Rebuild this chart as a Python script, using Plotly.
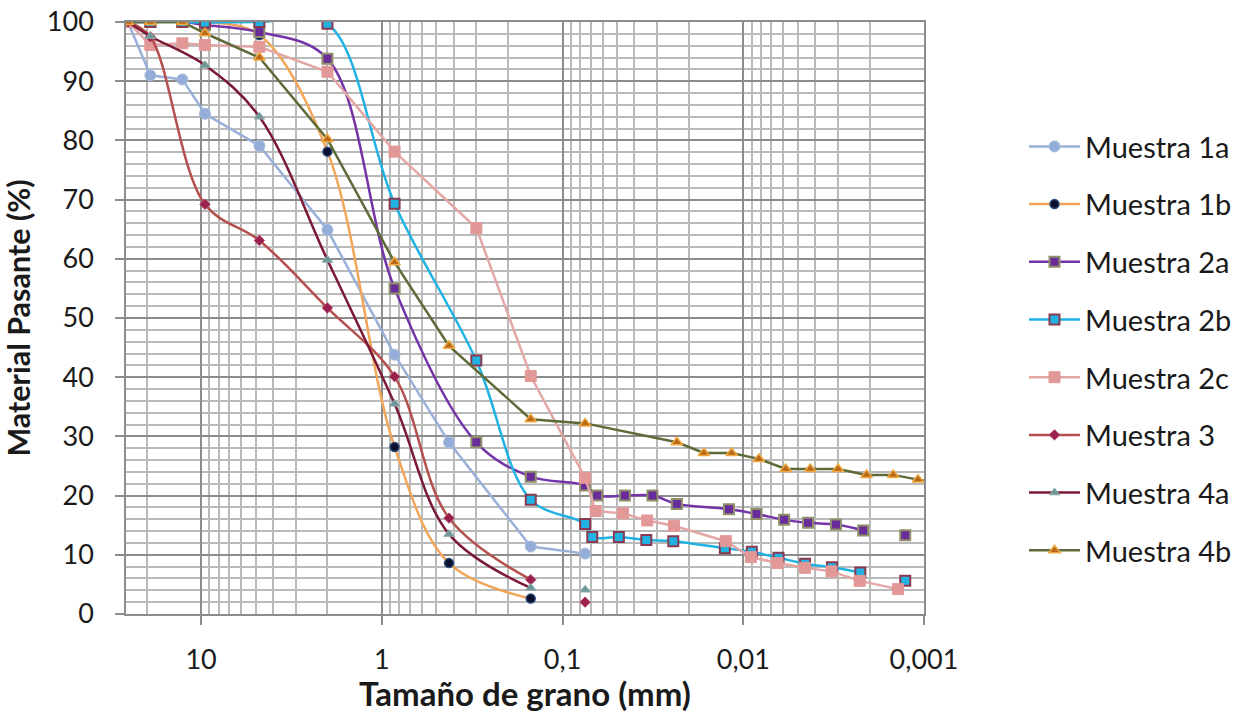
import math
import plotly.graph_objects as go

# ---------------- data ----------------
x_1a = [25.4, 19.1, 12.7, 9.52, 4.76, 2.0, 0.85, 0.425, 0.15, 0.075]
y_1a = [100, 91.0, 90.3, 84.5, 79.1, 64.9, 43.8, 29.0, 11.4, 10.2]

x_1b = [25.4, 12.7, 9.52, 4.76, 2.0, 0.85, 0.425, 0.15]
y_1b = [100, 100, 100, 97.8, 78.1, 28.2, 8.6, 2.6]

x_2a = [25.4, 19.1, 12.7, 9.52, 4.76, 2.0, 0.85, 0.3, 0.15, 0.075,
        0.0643, 0.0452, 0.0318, 0.0233, 0.0120, 0.00845, 0.00594, 0.00438,
        0.00307, 0.00217, 0.0017, 0.00127]
y_2a = [100, 100, 100, 99.5, 98.3, 93.8, 55.0, 29.0, 23.2, 21.7,
        20.0, 20.0, 20.0, 18.6, 17.7, 16.9, 15.9, 15.4,
        15.1, 14.1, None, 13.3]

x_2b = [25.4, 19.1, 12.7, 9.52, 4.76, 2.0, 0.85, 0.3, 0.15, 0.075,
        0.0685, 0.0488, 0.0344, 0.0244, 0.01265, 0.00897, 0.00638, 0.00455,
        0.00323, 0.00225, 0.0017, 0.00127]
y_2b = [100, 100, 100, 99.9, 100, 99.7, 69.3, 42.8, 19.3, 15.2,
        13.0, 13.0, 12.5, 12.3, 11.1, 10.5, 9.5, 8.5,
        7.9, 7.0, None, 5.6]

x_2c = [25.4, 19.1, 12.7, 9.52, 4.76, 2.0, 0.85, 0.3, 0.15, 0.075,
        0.0656, 0.0463, 0.0340, 0.0242, 0.0125, 0.00908, 0.00647, 0.00456,
        0.00325, 0.00227, 0.00139]
y_2c = [100, 96.1, 96.4, 96.1, 95.8, 91.6, 78.1, 65.2, 40.2, 23.0,
        17.4, 17.0, 15.8, 14.9, 12.3, 9.6, 8.6, 7.8,
        7.2, 5.6, 4.2]

x_3 = [25.4, 19.1, 9.52, 4.76, 2.0, 0.85, 0.425, 0.15, 0.1, 0.075]
y_3 = [100, 97.5, 69.2, 63.1, 51.7, 40.1, 16.2, 5.8, None, 2.0]

x_4a = [25.4, 19.1, 9.52, 4.76, 2.0, 0.85, 0.425, 0.15, 0.1, 0.075]
y_4a = [100, 97.6, 92.7, 84.0, 59.8, 35.5, 13.5, 4.4, None, 4.1]

x_4b = [25.4, 19.1, 12.7, 9.52, 4.76, 2.0, 0.85, 0.425, 0.15, 0.075,
        0.0233, 0.0165, 0.0116, 0.0082, 0.00582, 0.00426, 0.00299,
        0.00208, 0.00148, 0.00108, 0.00086]
y_4b = [100, 100, 100, 98.1, 94.0, 80.2, 59.4, 45.3, 32.9, 32.2,
        29.0, 27.2, 27.2, 26.2, 24.5, 24.5, 24.5,
        23.5, 23.5, 22.7, 22.3]

x_tick_vals = [10, 1, 0.1, 0.01, 0.001]
x_tick_text = ["10", "1", "0,1", "0,01", "0,001"]
y_tick_vals = [0, 10, 20, 30, 40, 50, 60, 70, 80, 90, 100]

series = [
    ("Muestra 1a", x_1a, y_1a, "#9AB0D8", "linear",
     dict(symbol="circle", size=11, color="#93ACD8", line=dict(color="#A8BDE0", width=1))),
    ("Muestra 1b", x_1b, y_1b, "#F2A65A", "spline",
     dict(symbol="circle", size=9, color="#0B1030", line=dict(color="#2C4A7A", width=1.5))),
    ("Muestra 2a", x_2a, y_2a, "#7434A8", "spline",
     dict(symbol="square", size=10, color="#6A2C9A", line=dict(color="#8E9068", width=2))),
    ("Muestra 2b", x_2b, y_2b, "#1FB2E2", "spline",
     dict(symbol="square", size=10, color="#1FB2E2", line=dict(color="#8A3A50", width=2))),
    ("Muestra 2c", x_2c, y_2c, "#E3A7A6", "linear",
     dict(symbol="square", size=11, color="#E29896", line=dict(color="#E29896", width=1))),
    ("Muestra 3", x_3, y_3, "#B4504E", "spline",
     dict(symbol="diamond", size=8, color="#9A2050", line=dict(color="#B04060", width=1))),
    ("Muestra 4a", x_4a, y_4a, "#7A1838", "spline",
     dict(symbol="triangle-up", size=9, color="#6E9898", line=dict(color="#8AA8A8", width=1))),
    ("Muestra 4b", x_4b, y_4b, "#5E6A38", "linear",
     dict(symbol="triangle-up", size=10, color="#B86A1A", line=dict(color="#F0A840", width=1.5))),
]

fig = go.Figure()
for name, xs, ys, lc, shape, mk in series:
    fig.add_trace(go.Scatter(
        x=xs, y=ys, name=name, mode="lines+markers",
        line=dict(color=lc, width=2.5, shape=shape, smoothing=1.0),
        marker=mk, connectgaps=False, legendgroup=name,
    ))

FONT = "Lato, Open Sans, sans-serif"
major_c = "#8C8C8C"
minor_c = "#BABABA"

fig.update_layout(
    width=1242, height=713,
    margin=dict(l=126, r=318, t=22, b=99, autoexpand=False),
    paper_bgcolor="white", plot_bgcolor="white",
    font=dict(family=FONT, color="#1A1A1A", size=24),
    showlegend=True,
    legend=dict(x=1.1253, y=0.8327, xanchor="left", yanchor="top",
                font=dict(size=29, color="#1A1A1A"),
                tracegroupgap=17, itemwidth=51, bgcolor="rgba(0,0,0,0)"),
    xaxis=dict(
        type="log", range=[math.log10(26.04), -3],
        tickvals=x_tick_vals, ticktext=x_tick_text,
        ticks="outside", ticklen=9, tickcolor=major_c, tickwidth=1.5,
        ticklabelstandoff=12,
        showgrid=True, gridcolor=major_c, gridwidth=1.5,
        minor=dict(dtick="D1", showgrid=True, gridcolor=minor_c, gridwidth=1.5, ticks=""),
        showline=True, linecolor=major_c, linewidth=1.5, mirror=True,
        tickfont=dict(size=27), zeroline=False, automargin=False,
        title=dict(text="<b>Tamaño de grano (mm)</b>", font=dict(size=33), standoff=8),
    ),
    yaxis=dict(
        range=[0, 100], tickvals=y_tick_vals,
        ticks="outside", ticklen=9, tickcolor=major_c, tickwidth=1.5,
        ticklabelstandoff=16,
        showgrid=True, gridcolor=major_c, gridwidth=1.5,
        minor=dict(dtick=2, showgrid=True, gridcolor=minor_c, gridwidth=1.5, ticks=""),
        showline=True, linecolor=major_c, linewidth=1.5, mirror=True,
        tickfont=dict(size=27), zeroline=False, automargin=False,
        title=dict(text="<b>Material Pasante (%)</b>", font=dict(size=30.5), standoff=10),
    ),
)

fig.write_html("out.html", config={"displayModeBar": False},
               post_script="document.body.style.margin='0';")
